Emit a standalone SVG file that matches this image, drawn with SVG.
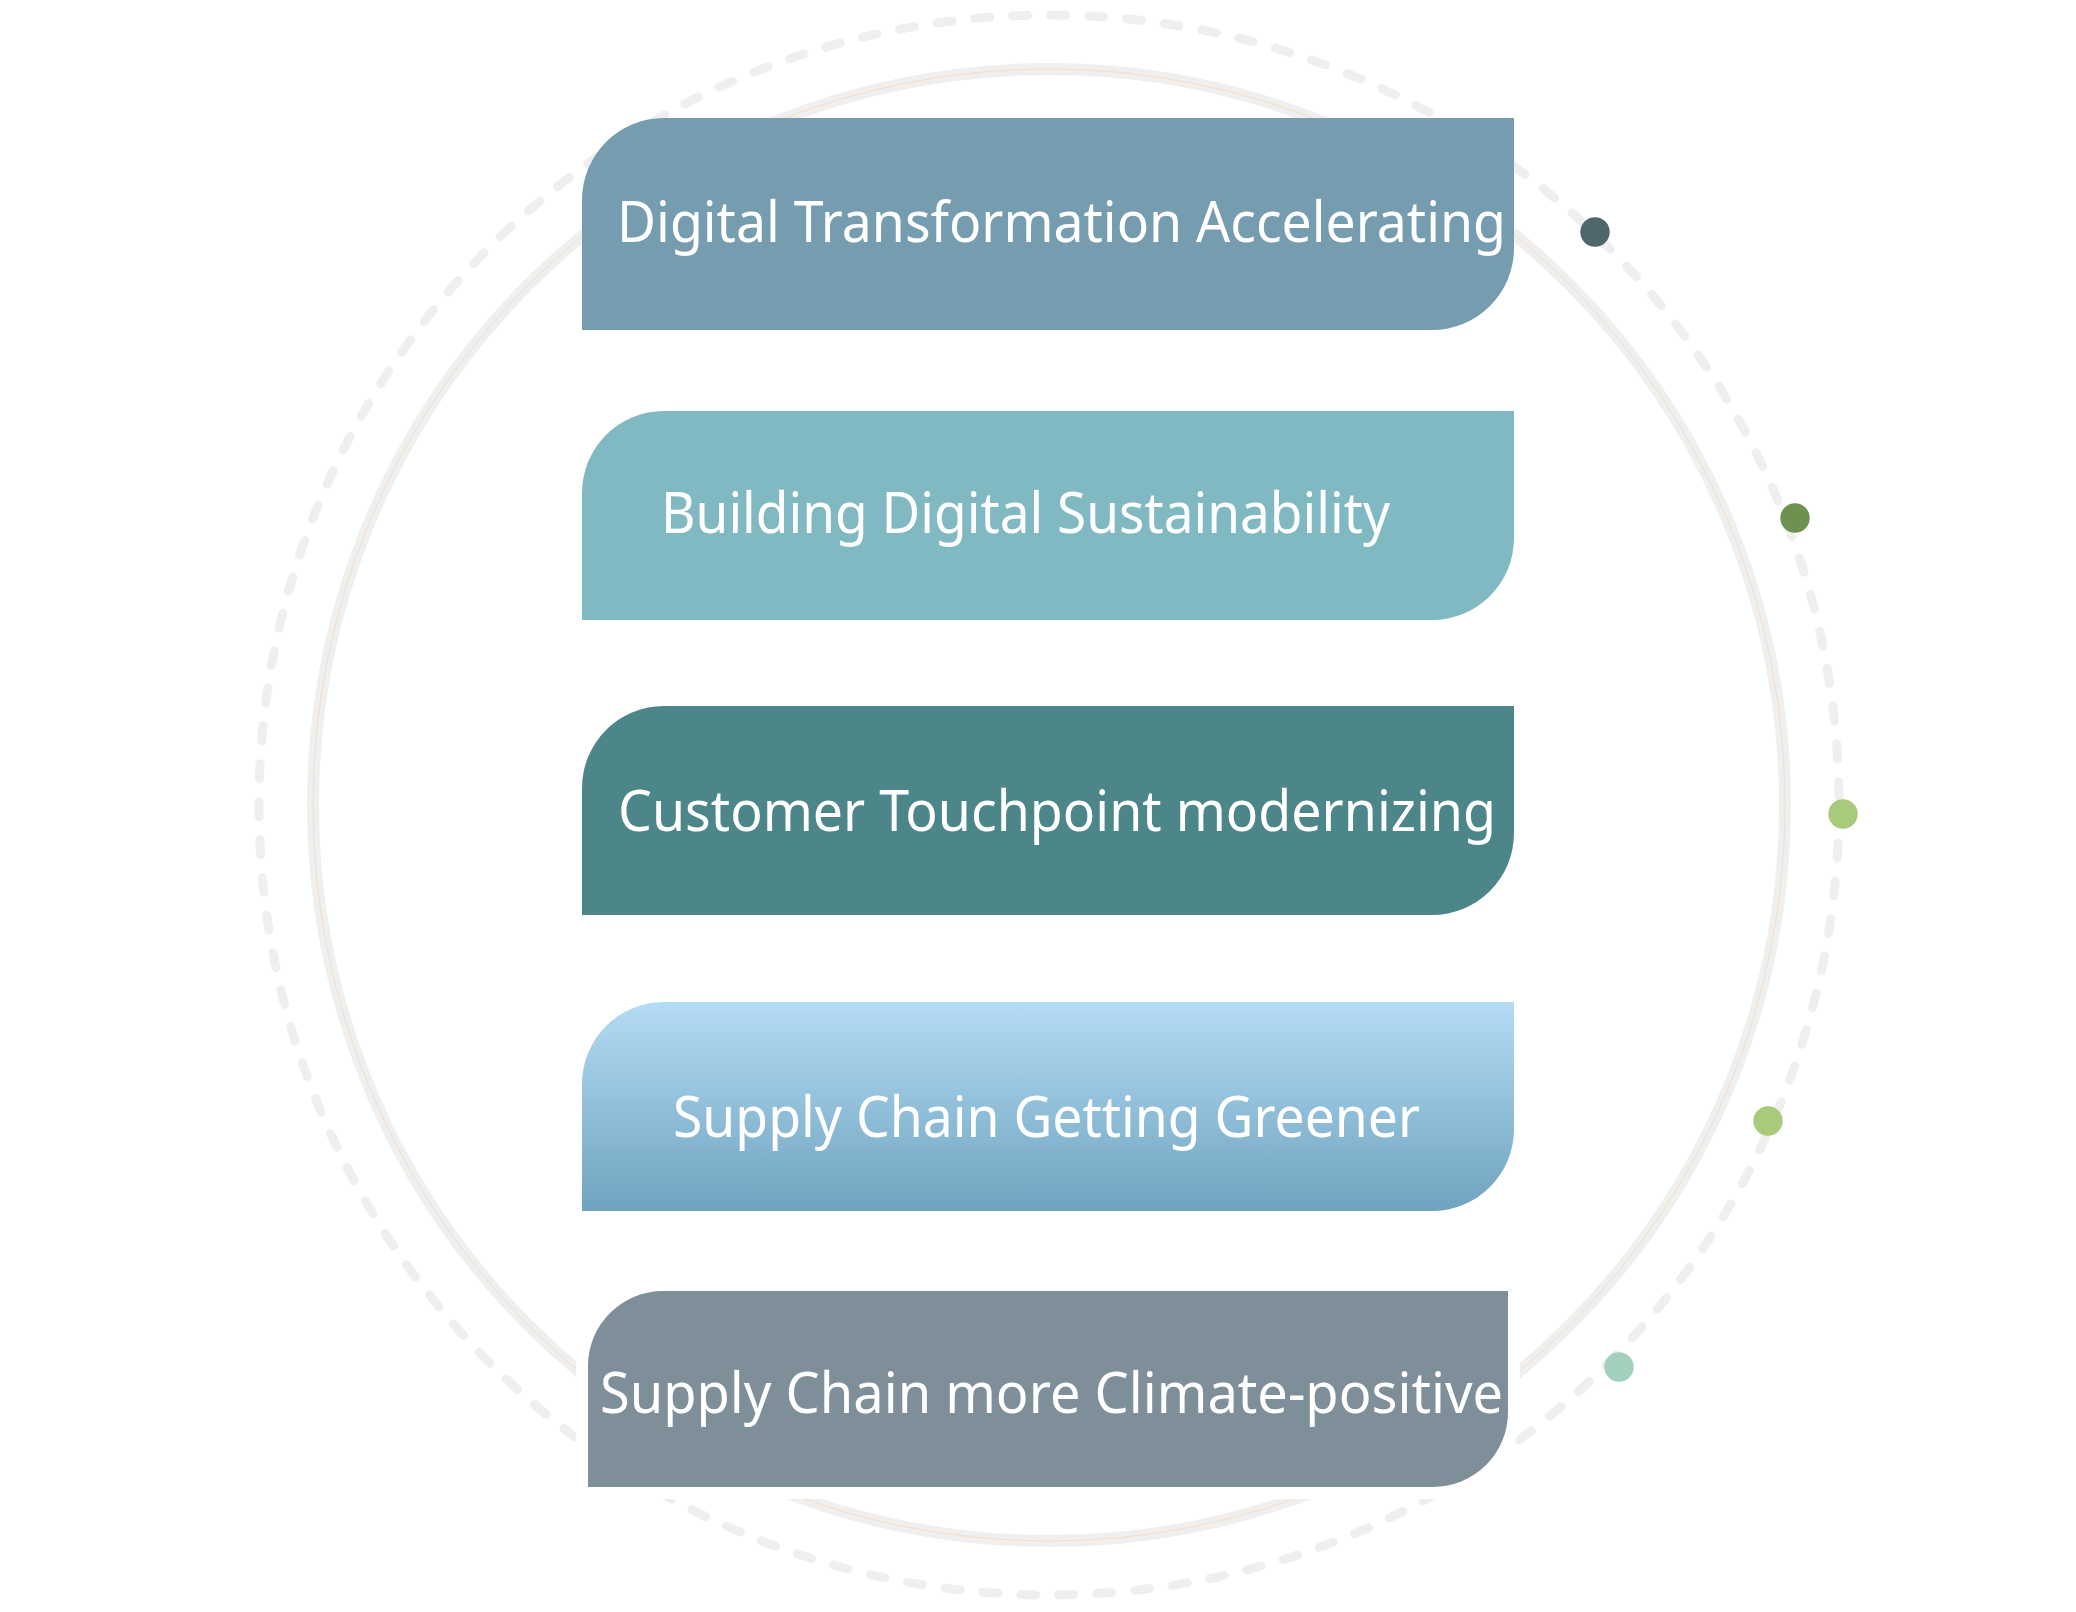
<svg xmlns="http://www.w3.org/2000/svg" width="2076" height="1612" viewBox="0 0 2076 1612">
  <defs>
    <linearGradient id="g4" x1="0" y1="0" x2="0" y2="1">
      <stop offset="0" stop-color="#b4dcf4"/>
      <stop offset="1" stop-color="#6fa3bf"/>
    </linearGradient>
    <style>
      .lbl { font-family: "Noto Sans", "Open Sans", "DejaVu Sans", sans-serif; font-size: 56px; fill: #ffffff; }
      .ring { fill: none; stroke: #efefef; stroke-width: 12; }
      .ringline { fill: none; stroke: #f7dcc4; stroke-width: 1; }
      .dash { fill: none; stroke: #efefef; stroke-width: 9; stroke-linecap: round; stroke-dasharray: 15 23; }
    </style>
  </defs>
  <rect width="2076" height="1612" fill="#ffffff"/>
  <g id="background-rings">
    <circle class="dash" cx="1049" cy="805" r="790"/>
    <circle class="ring" cx="1049" cy="805" r="736"/>
    <circle class="ringline" cx="1049" cy="805" r="736"/>
  </g>
  <g id="connectors"></g>
  <g id="node-1">
    <path d="M664,118 H1514 V248 A82,82 0 0 1 1432,330 H582 V200 A82,82 0 0 1 664,118 Z" fill="#769cb0"/>
    <text class="lbl" x="617" y="242" textLength="889" lengthAdjust="spacingAndGlyphs">Digital Transformation Accelerating</text>
  </g>
  <g id="node-2">
    <path d="M664,411 H1514 V538 A82,82 0 0 1 1432,620 H582 V493 A82,82 0 0 1 664,411 Z" fill="#80b9c1"/>
    <text class="lbl" x="661" y="533" textLength="729" lengthAdjust="spacingAndGlyphs">Building Digital Sustainability</text>
  </g>
  <g id="node-3">
    <path d="M664,706 H1514 V833 A82,82 0 0 1 1432,915 H582 V788 A82,82 0 0 1 664,706 Z" fill="#4d8689"/>
    <text class="lbl" x="618" y="831" textLength="878" lengthAdjust="spacingAndGlyphs">Customer Touchpoint modernizing</text>
  </g>
  <g id="node-4">
    <path d="M664,1002 H1514 V1129 A82,82 0 0 1 1432,1211 H582 V1084 A82,82 0 0 1 664,1002 Z" fill="url(#g4)"/>
    <text class="lbl" x="673" y="1137" textLength="747" lengthAdjust="spacingAndGlyphs">Supply Chain Getting Greener</text>
  </g>
  <g id="node-5">
    <path d="M663,1291 H1508 V1412 A75,75 0 0 1 1433,1487 H588 V1366 A75,75 0 0 1 663,1291 Z" fill="#7f8f9a" stroke="#ffffff" stroke-width="24" paint-order="stroke fill"/>
    <text class="lbl" x="600" y="1413" textLength="903" lengthAdjust="spacingAndGlyphs">Supply Chain more Climate-positive</text>
  </g>
  <g id="dots">
    <circle id="dot-1" cx="1595" cy="232" r="14.7" fill="#4e676b"/>
    <circle id="dot-2" cx="1795" cy="518" r="14.7" fill="#6e9150"/>
    <circle id="dot-3" cx="1843" cy="814" r="14.7" fill="#a9c97b"/>
    <circle id="dot-4" cx="1768" cy="1121" r="14.7" fill="#a9c97b"/>
    <circle id="dot-5" cx="1619" cy="1367" r="14.7" fill="#a3cfbd"/>
  </g>
</svg>
